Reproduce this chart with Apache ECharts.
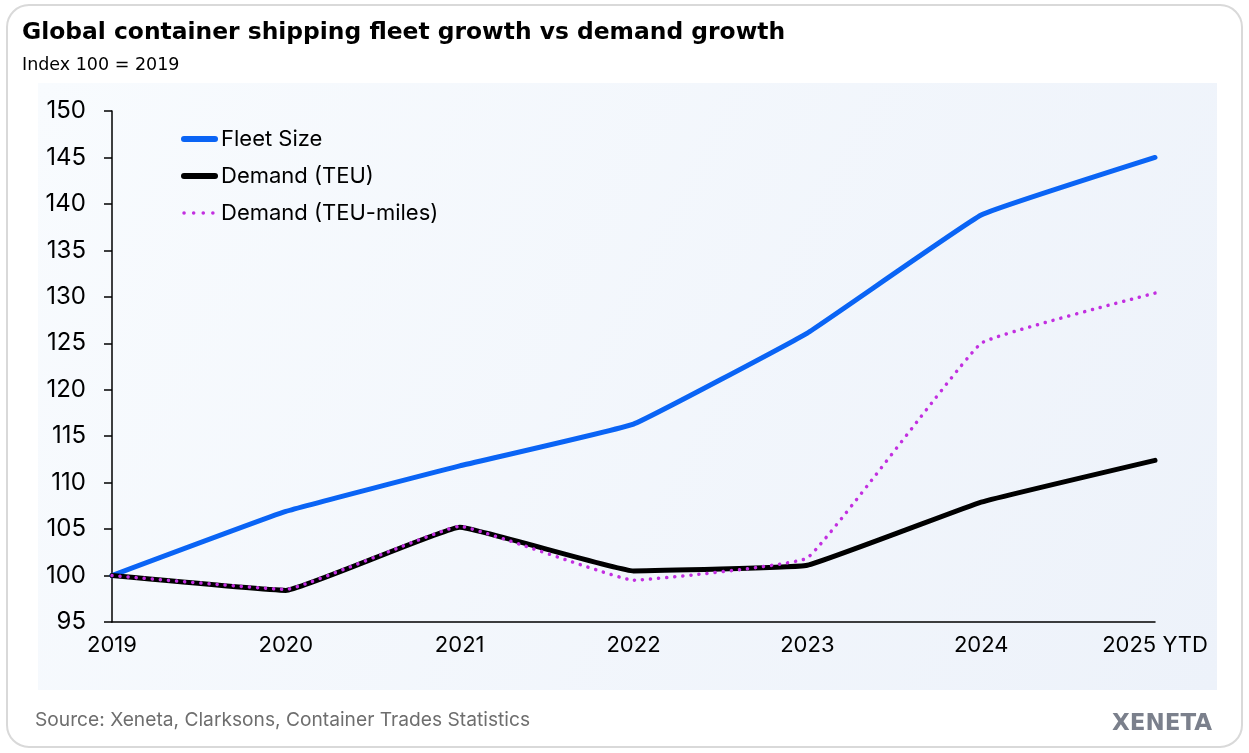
<!DOCTYPE html>
<html><head><meta charset="utf-8">
<script src="https://cdn.jsdelivr.net/npm/echarts@6/dist/echarts.min.js"></script>
<style>html,body{margin:0;padding:0;background:#fff}#c{width:1249px;height:753px}</style>
</head><body><div id="c"></div>
<script>
const years = ['2019','2020','2021','2022','2023','2024','2025 YTD'];
const fleetSize = [100, 106.9, 111.8, 116.3, 126.1, 138.8, 145.0];
const demandTEU = [100, 98.4, 105.2, 100.5, 101.1, 107.9, 112.4];
const demandTEUMiles = [100, 98.5, 105.3, 99.5, 101.9, 125.0, 130.4];
const yTicks = {min: 95, max: 150, interval: 5};

const chart = echarts.init(document.getElementById('c'), null, {renderer: 'canvas'});
chart.setOption({
  animation: false,
  textStyle: {fontFamily: 'Inter'},
  title: [
    {text: 'Global container shipping fleet growth vs demand growth', left: 17, top: 16,
     textStyle: {fontFamily: 'DejaVu Sans', fontWeight: 700, fontSize: 23.4, color: '#000'}},
    {text: 'Index 100 = 2019', left: 17, top: 51,
     textStyle: {fontFamily: 'DejaVu Sans', fontWeight: 400, fontSize: 17.5, color: '#000'}},
    {text: 'Source: Xeneta, Clarksons, Container Trades Statistics', left: 30, top: 706,
     textStyle: {fontFamily: 'Inter', fontWeight: 400, fontSize: 19.2, color: '#6e6e6e'}}
  ],
  graphic: [
    {type: 'rect', shape: {x: 7, y: 5, width: 1235, height: 742, r: 22}, z: -10,
     style: {fill: '#fff', stroke: '#d9d9d9', lineWidth: 2}},
    {type: 'rect', shape: {x: 38, y: 83, width: 1179, height: 607}, z: -9,
     style: {fill: new echarts.graphic.LinearGradient(0, 0, 1, 1, [
       {offset: 0, color: '#f8fbfe'}, {offset: 1, color: '#edf2fa'}])}},
    {type: 'text', left: 1112, top: 713, z: 10,
     style: {text: 'XENETA', fill: '#7b808c', font: 'bold 23px "DejaVu Sans"', letterSpacing: 4.5}}
  ],
  legend: {
    orient: 'vertical', left: 176, top: 123, itemGap: 15, itemWidth: 31, itemHeight: 22,
    itemStyle: {opacity: 0},
    textStyle: {fontFamily: 'Inter', fontSize: 22, color: '#000', padding: [0, 0, 0, 1]},
    data: [
      {name: 'Fleet Size', lineStyle: {width: 6, cap: 'round'}},
      {name: 'Demand (TEU)', lineStyle: {width: 6, cap: 'round'}},
      {name: 'Demand (TEU-miles)', lineStyle: {width: 3.5, cap: 'round', type: [0.1, 9.5]}}
    ]
  },
  grid: {left: 112, right: 94, top: 111, bottom: 131, containLabel: false},
  xAxis: {
    type: 'category', data: years, boundaryGap: false,
    axisLine: {lineStyle: {color: '#000', width: 1.5}},
    axisTick: {show: false},
    axisLabel: {fontFamily: 'Inter', fontSize: 22, color: '#000', margin: 12}
  },
  yAxis: {
    type: 'value', min: yTicks.min, max: yTicks.max, interval: yTicks.interval,
    axisLine: {show: true, lineStyle: {color: '#000', width: 1.5}},
    axisTick: {show: true, length: 8, lineStyle: {color: '#000', width: 1.5}},
    splitLine: {show: false},
    axisLabel: {fontFamily: 'Inter', fontSize: 24, color: '#000', margin: 26}
  },
  series: [
    {name: 'Fleet Size', type: 'line', data: fleetSize, symbol: 'none', smooth: 0.08,
     itemStyle: {color: '#0a64f5'},
     lineStyle: {color: '#0a64f5', width: 5, cap: 'round', join: 'round'}},
    {name: 'Demand (TEU)', type: 'line', data: demandTEU, symbol: 'none', smooth: 0.08,
     itemStyle: {color: '#000'},
     lineStyle: {color: '#000', width: 5, cap: 'round', join: 'round'}},
    {name: 'Demand (TEU-miles)', type: 'line', data: demandTEUMiles, symbol: 'none', smooth: 0.08,
     itemStyle: {color: '#c22fe0'},
     lineStyle: {color: '#c22fe0', width: 3.5, type: [0.1, 8], cap: 'round', join: 'round'}}
  ]
});
</script></body></html>
